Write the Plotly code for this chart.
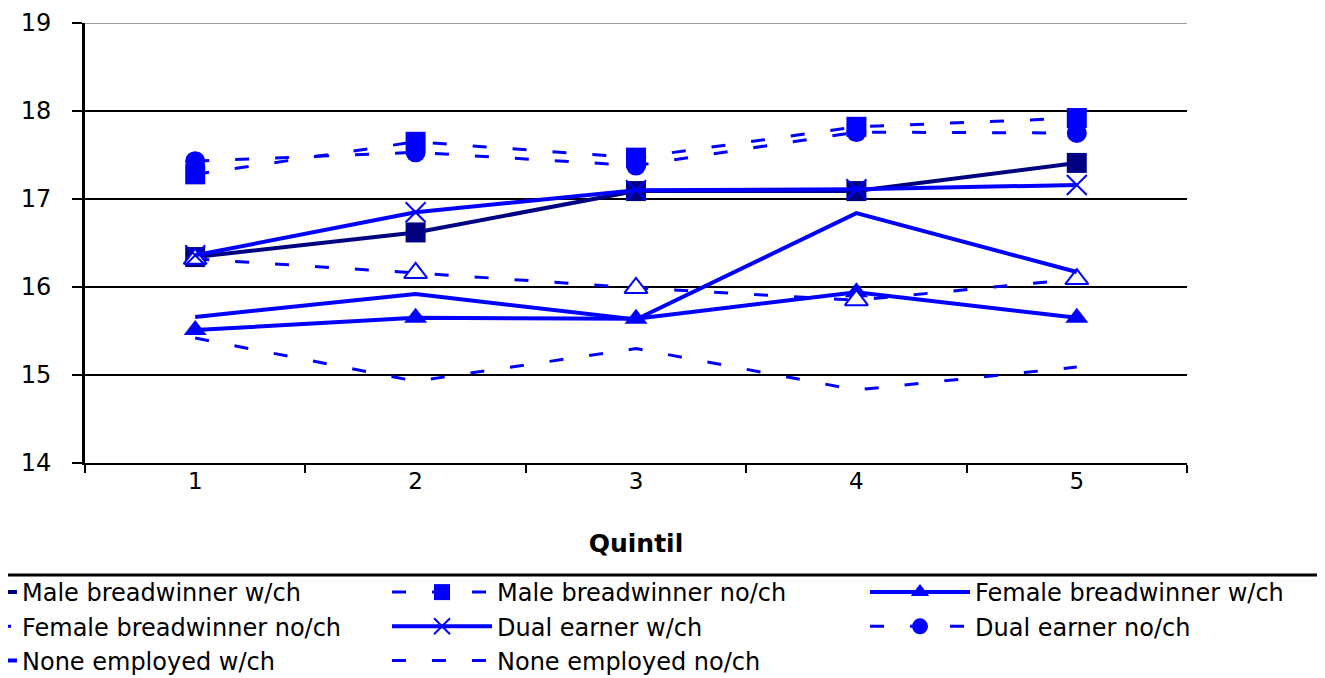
import plotly.graph_objects as go

quintiles = ["1", "2", "3", "4", "5"]
y_ticks = [14, 15, 16, 17, 18, 19]

male_bw_wch = [16.34, 16.62, 17.09, 17.09, 17.41]
male_bw_noch = [17.28, 17.65, 17.47, 17.82, 17.92]
female_bw_wch = [15.51, 15.65, 15.64, 15.94, 15.65]
female_bw_noch = [16.32, 16.16, 15.99, 15.85, 16.09]
dual_wch = [16.36, 16.85, 17.10, 17.11, 17.16]
dual_noch = [17.43, 17.53, 17.38, 17.76, 17.75]
none_wch = [15.66, 15.92, 15.63, 16.84, 16.17]
none_noch = [15.42, 14.93, 15.30, 14.83, 15.09]

NAVY = "#000080"
BLUE = "#0000FF"
DASH = "14px,26px"
MS = 20

series = [
    dict(name="Male breadwinner w/ch", y=male_bw_wch, color=NAVY, dash="solid", width=4,
         marker=dict(symbol="square", size=MS, color=NAVY), legend="legend"),
    dict(name="Male breadwinner no/ch", y=male_bw_noch, color=BLUE, dash=DASH, width=3,
         marker=dict(symbol="square", size=MS, color=BLUE), legend="legend2"),
    dict(name="Female breadwinner w/ch", y=female_bw_wch, color=BLUE, dash="solid", width=4,
         marker=dict(symbol="triangle-up", size=MS, color=BLUE), legend="legend3"),
    dict(name="Female breadwinner no/ch", y=female_bw_noch, color=BLUE, dash=DASH, width=3,
         marker=dict(symbol="triangle-up", size=MS, color="white", line=dict(color=BLUE, width=2)),
         legend="legend"),
    dict(name="Dual earner w/ch", y=dual_wch, color=BLUE, dash="solid", width=4,
         marker=dict(symbol="x-thin", size=MS, color=BLUE, line=dict(color=BLUE, width=2)),
         legend="legend2"),
    dict(name="Dual earner no/ch", y=dual_noch, color=BLUE, dash=DASH, width=3,
         marker=dict(symbol="circle", size=MS, color=BLUE), legend="legend3"),
    dict(name="None employed w/ch", y=none_wch, color=BLUE, dash="solid", width=4,
         marker=None, legend="legend"),
    dict(name="None employed no/ch", y=none_noch, color=BLUE, dash=DASH, width=3,
         marker=None, legend="legend2"),
]

fig = go.Figure()
for s in series:
    kw = {}
    if s["marker"] is not None:
        kw["mode"] = "lines+markers"
        kw["marker"] = s["marker"]
    else:
        kw["mode"] = "lines"
    fig.add_trace(go.Scatter(
        x=quintiles, y=s["y"], name=s["name"],
        line=dict(color=s["color"], dash=s["dash"], width=s["width"]),
        legend=s["legend"], legendgroup=s["name"], **kw))

# page body has an 8px margin; work in screen pixels and convert
OFF = 8
W, H = 1325 - OFF, 678 - OFF
L, T = 85 - OFF, 23 - OFF
pw, ph = 1102, 440
R = W - L - pw
B = H - T - ph


def px_x(p):
    return (p - OFF - L) / pw


def px_y(p):
    return (T + ph - (p - OFF)) / ph


leg_font = dict(family="DejaVu Sans", size=24, color="black")
leg_common = dict(orientation="v", xanchor="left", yanchor="top", itemwidth=100,
                  tracegroupgap=0, font=leg_font, bgcolor="rgba(0,0,0,0)",
                  borderwidth=0, itemclick=False)
leg_y = px_y(570)

fig.update_layout(
    width=W, height=H,
    margin=dict(l=L, r=R, t=T, b=B, autoexpand=False),
    paper_bgcolor="white", plot_bgcolor="white",
    showlegend=True,
    legend=dict(x=px_x(-88), y=leg_y, **leg_common),
    legend2=dict(x=px_x(387), y=leg_y, **leg_common),
    legend3=dict(x=px_x(865), y=leg_y, **leg_common),
    font=dict(family="DejaVu Sans", color="black"),
    xaxis=dict(
        type="category", range=[-0.5, 4.5], tickson="boundaries", ticks="outside",
        ticklen=8, tickwidth=2, tickcolor="black", showline=True, linecolor="black",
        linewidth=2, showgrid=False, ticklabelstandoff=-4,
        tickfont=dict(family="DejaVu Sans", size=23, color="black"),
        title=dict(text="<b>Quintil</b>", font=dict(family="DejaVu Sans", size=25, color="black"),
                   standoff=42),
    ),
    yaxis=dict(
        range=[14, 19], tickvals=y_ticks, ticks="outside", ticklen=10, tickwidth=2,
        tickcolor="black", showline=True, linecolor="black", linewidth=3,
        gridcolor="black", gridwidth=1.5, zeroline=False, ticklabelstandoff=16,
        tickfont=dict(family="DejaVu Sans", size=24, color="black"),
    ),
    shapes=[
        dict(type="line", xref="paper", yref="paper", x0=px_x(-5), x1=px_x(1335),
             y0=px_y(575), y1=px_y(575), line=dict(color="black", width=3)),
        dict(type="line", xref="paper", yref="y", x0=0, x1=1, y0=19, y1=19,
             line=dict(color="#808080", width=1.5)),
    ],
)

fig.write_html("out.html")
